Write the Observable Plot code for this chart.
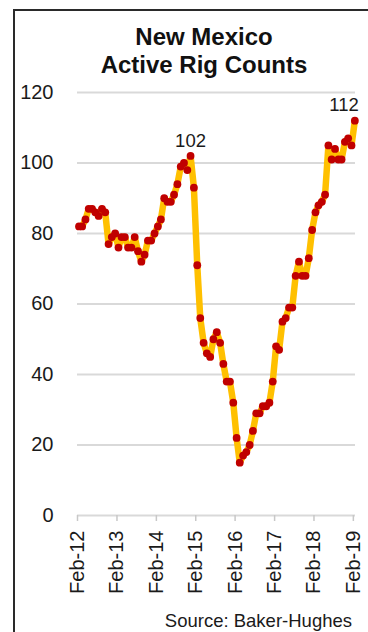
<!DOCTYPE html>
<html>
<head>
<meta charset="utf-8">
<script src="https://cdn.jsdelivr.net/npm/d3@7"></script>
<script src="https://cdn.jsdelivr.net/npm/@observablehq/plot@0.6"></script>
<style>
  html, body { margin: 0; padding: 0; background: #fff; }
  #wrap { position: relative; width: 368px; height: 632px; overflow: hidden; background: #fff;
          font-family: "Liberation Sans", Arial, sans-serif; color: #1a1a1a; }
  #frame { position: absolute; left: 13px; top: 9px; width: 420px; height: 700px;
           border-top: 2px solid #2a2a2a; border-left: 2px solid #2a2a2a; box-sizing: border-box; }
  #title { position: absolute; left: 84px; width: 240px; top: 23px; text-align: center;
           font-weight: bold; font-size: 24px; line-height: 28px; color: #111; }
  #source { position: absolute; right: 16px; top: 611px; font-size: 18.5px; line-height: 20px; color: #1a1a1a; }
  #chart { position: absolute; left: 0; top: 0; }
</style>
</head>
<body>
<div id="wrap">
  <div id="frame"></div>
  <div id="chart"></div>
  <div id="title">New Mexico<br>Active Rig Counts</div>
  <div id="source">Source: Baker-Hughes</div>
</div>
<script>
// Monthly New Mexico active rig counts, Feb-12 .. Feb-19
const startMonth = "Feb-12";
const rigCounts = [
  82, 82, 84, 87, 87, 86, 85, 87, 86, 77,
  79, 80, 76, 79, 79, 76, 76, 79, 75, 72,
  74, 78, 78, 80, 82, 84, 90, 89, 89, 91,
  94, 99, 100, 98, 102, 93, 71, 56, 49, 46,
  45, 50, 52, 49, 43, 38, 38, 32, 22, 15,
  17, 18, 20, 24, 29, 29, 31, 31, 32, 38,
  48, 47, 55, 56, 59, 59, 68, 72, 68, 68,
  73, 81, 86, 88, 89, 91, 105, 101, 104, 101,
  101, 106, 107, 105, 112
];
const xTickLabels = ["Feb-12", "Feb-13", "Feb-14", "Feb-15", "Feb-16", "Feb-17", "Feb-18", "Feb-19"];
const yTicks = [0, 20, 40, 60, 80, 100, 120];
const annotatedValues = [102, 112];

const parse = d3.utcParse("%b-%y");
const start = parse(startMonth);
const data = rigCounts.map((v, i) => ({
  date: d3.utcDay.offset(d3.utcMonth.offset(start, i), 14),
  v
}));
const tickDates = xTickLabels.map(parse);
const fmt = d3.utcFormat("%b-%y");
const annotations = data.filter(d => annotatedValues.includes(d.v));

const chart = Plot.plot({
  width: 368,
  height: 632,
  marginTop: 92,
  marginBottom: 117,
  marginLeft: 77,
  marginRight: 13,
  style: { fontFamily: "'Liberation Sans', Arial, sans-serif", fontSize: "20px", color: "#1a1a1a", background: "transparent", overflow: "visible" },
  x: { type: "utc", domain: [start, d3.utcDay.offset(tickDates[tickDates.length - 1], 20)] },
  y: { domain: [0, 120] },
  marks: [
    Plot.ruleY(yTicks, { stroke: "#d9d9d9", strokeWidth: 2, strokeOpacity: 1 }),
    Plot.axisY({ ticks: yTicks, tickSize: 0, tickPadding: 24, label: null, fontSize: 20 }),
    Plot.axisX({ ticks: tickDates, tickFormat: fmt, tickRotate: -90, tickSize: 6, tickPadding: 9,
                 stroke: "#c8c8c8", strokeWidth: 1.5, label: null, fontSize: 20 }),
    Plot.line(data, { x: "date", y: "v", stroke: "#FFC000", strokeWidth: 6.5, strokeLinejoin: "round", strokeLinecap: "round" }),
    Plot.dot(data, { x: "date", y: "v", r: 3.9, fill: "#C00000", stroke: "none" }),
    Plot.text(annotations.filter(d => d.v === annotatedValues[0]), { x: "date", y: "v", text: d => String(d.v), dy: -9, lineAnchor: "bottom", textAnchor: "middle", fontSize: 18.5, fill: "#1a1a1a" }),
    Plot.text(annotations.filter(d => d.v === annotatedValues[1]), { x: "date", y: "v", text: d => String(d.v), dx: 4, dy: -10, lineAnchor: "bottom", textAnchor: "end", fontSize: 18.5, fill: "#1a1a1a" })
  ]
});
document.getElementById("chart").appendChild(chart);
</script>
</body>
</html>
